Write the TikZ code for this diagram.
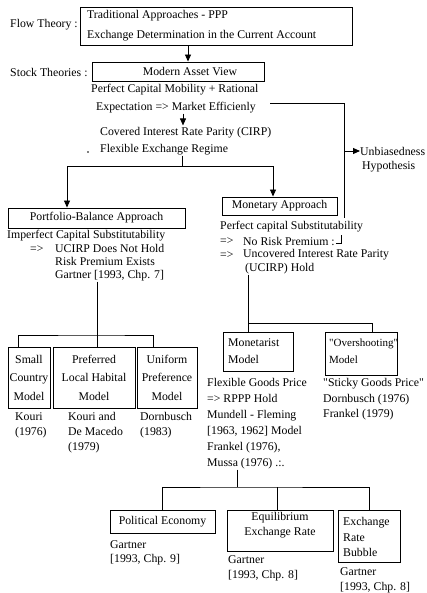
\documentclass[tikz,border=0pt]{standalone}
\usepackage{fontspec}
\setmainfont{Liberation Serif}[Ligatures=TeXOff]
\usetikzlibrary{arrows.meta}
\newcommand\myfs[1]{\fontsize{11.8}{#1}\selectfont}
\begin{document}
\begin{tikzpicture}[x=1pt,y=-1pt,
  txt/.style={inner sep=0pt, anchor=west, font=\myfs{14}},
  blk/.style={inner sep=0pt, anchor=north west, align=left, font=\myfs{#1}},
  cblk/.style={inner sep=0pt, align=center, font=\myfs{#1}},
  bx/.style={draw, line width=0.9pt, inner sep=0pt},
  ln/.style={line width=0.9pt},
  arr/.style={line width=0.9pt, -{Triangle[length=7pt,width=6pt]}},
]
\useasboundingbox (0,0) rectangle (426,593);

% ---- top ----
\node[txt] (flow) at (10,25) {Flow Theory :};
\node[bx, minimum width=272pt, minimum height=38pt] (topbox) at (216,26) {};
\node[blk=20] (toptxt) at (87,10.5) {Traditional Approaches - PPP\\Exchange Determination in the Current Account};

\node[txt] (stock) at (10,72) {Stock Theories :};
\node[bx, minimum width=172pt, minimum height=19pt] (mav) at (178,71.5) {};
\node[inner sep=0pt, font=\myfs{14}] (mavt) at (190,71.5) {Modern Asset View};
\draw[arr] ([xshift=-28pt]topbox.south) -- ([xshift=10pt]mav.north);

\node[txt] (pcm1) at (91,90) {Perfect Capital Mobility + Rational};
\node[txt] (pcm2) at (96,108) {Expectation => Market Efficienly};

\node[txt] (cov) at (100,133) {Covered Interest Rate Parity (CIRP)};
\node[txt] (flex) at (100,150) {Flexible Exchange Regime};
\node[circle, fill, inner sep=0.7pt] (dot) at (88,152) {};
\draw[arr, shorten >=2pt] (pcm2.south -| 183,0) -- (cov.north -| 183,0);

% ---- unbiasedness ----
\node[txt] (unb1) at (360,151) {Unbiasedness};
\node[txt] (unb2) at (362,167) {Hypothesis};
\coordinate (ub1) at (270,103);
\coordinate (ub2) at (344,103);
\coordinate (ub3) at (344,218);
\coordinate (ubj) at (344,151);
\draw[ln] (ub1) -- (ub2) -- (ub3);
\draw[arr] (ubj) -- (unb1.west);

% ---- approaches ----
\node[bx, minimum width=177pt, minimum height=20pt, font=\myfs{14}] (pba) at (96.5,218) {Portfolio-Balance Approach};
\node[bx, minimum width=115pt, minimum height=18pt, font=\myfs{14}] (mon) at (279.5,206) {Monetary Approach};
\coordinate (fj) at (182,166);
\draw[ln] (flex.south -| fj) -- (fj);
\draw[arr] (fj) -| ([xshift=-29.5pt]pba.north);
\draw[arr] (fj) -| ([xshift=-6.5pt]mon.north);

% ---- left block ----
\node[txt] (imp) at (7,236) {Imperfect Capital Substitutability};
\node[txt] (la1) at (30,249) {=>};
\node[blk=13] (lblk) at (55,244.5) {UCIRP Does Not Hold\\Risk Premium Exists\\Gartner [1993, Chp. 7]};

% ---- right block ----
\node[txt] (pcs) at (220,227) {Perfect capital Substitutability};
\node[txt] (ra1) at (220,241) {=>};
\node[txt] (nrp) at (243,241) {No Risk Premium :};
\node[txt] (ra2) at (220,255) {=>};
\node[txt] (uirp) at (243,255) {Uncovered Interest Rate Parity};
\node[txt] (uh) at (245,269) {(UCIRP) Hold};
\draw[ln] ([xshift=1pt,yshift=-2.5pt]nrp.east) -| ([xshift=7pt,yshift=6pt]nrp.east);

% ---- left tree ----
\node[bx, minimum width=42pt, minimum height=61pt, align=center, font=\myfs{18.5}] (scm) at (29,377.5) {Small\\Country\\Model};
\node[bx, minimum width=82pt, minimum height=61pt, align=center, font=\myfs{18.5}] (plh) at (94,377.5) {Preferred\\Local Habital\\Model};
\node[bx, minimum width=60pt, minimum height=61pt, align=center, font=\myfs{18.5}] (upm) at (167,377.5) {Uniform\\Preference\\Model};
\coordinate (lj) at (97,335);
\draw[ln] (lblk.south -| lj) -- (lj);
\draw[ln] ([xshift=-11pt]scm.north) |- (lj) -| ([xshift=-14pt]upm.north);
\draw[ln] (lj) -- (plh.north -| lj);

\node[blk=15] (kouri) at (15,412.5) {Kouri\\(1976)};
\node[blk=15] (kdm) at (68,412.5) {Kouri and\\De Macedo\\(1979)};
\node[blk=15] (dorn) at (140,412.5) {Dornbusch\\(1983)};

% ---- right tree ----
\node[bx, minimum width=70pt, minimum height=39pt] (mtm) at (258,351.5) {};
\node[blk=17] (mtmt) at (228,338.5) {Monetarist\\Model};
\node[bx, minimum width=72pt, minimum height=43pt] (ovm) at (361,353.5) {};
\node[inner sep=0pt, anchor=north west, align=left, font=\fontsize{11}{17}\selectfont] (ovmt) at (329,338.5) {"Overshooting"\\Model};
\coordinate (rj) at (248,323);
\draw[ln] (uh.south -| rj) -- (mtm.north -| rj);
\draw[ln] (rj) -| ([xshift=11pt]ovm.north);

\node[blk=16] (fgp) at (207,378.5) {Flexible Goods Price\\=> RPPP Hold\\Mundell - Fleming\\{}[1963, 1962] Model\\Frankel (1976),\\Mussa (1976) .:.};
\node[blk=15.5] (sgp) at (323,378.5) {"Sticky Goods Price"\\Dornbusch (1976)\\Frankel (1979)};

% ---- bottom tree ----
\node[bx, minimum width=105pt, minimum height=23pt, font=\myfs{14}] (pe) at (162.5,521.5) {Political Economy};
\node[bx, minimum width=106pt, minimum height=41pt] (eq) at (280,530.5) {};
\node[cblk=15] (eqt) at (280,525.5) {Equilibrium\\Exchange Rate};
\node[bx, minimum width=62pt, minimum height=52pt] (erb) at (369,536) {};
\node[blk=15.5] (erbt) at (343,517.5) {Exchange\\Rate\\Bubble};
\coordinate (bj) at (237,487);
\coordinate (bm) at (277,487);
\draw[ln] (fgp.south -| bj) -- (bj);
\draw[ln] (pe.north) |- (bj) -| (erb.north);
\draw[ln] (bm) -- (eq.north -| bm);

\node[blk=13.5] (gp9) at (110,540.5) {Gartner\\{}[1993, Chp. 9]};
\node[blk=15] (gp8a) at (228,555.5) {Gartner\\{}[1993, Chp. 8]};
\node[blk=14.5] (gp8b) at (340,567.5) {Gartner\\{}[1993, Chp. 8]};
\end{tikzpicture}
\end{document}
